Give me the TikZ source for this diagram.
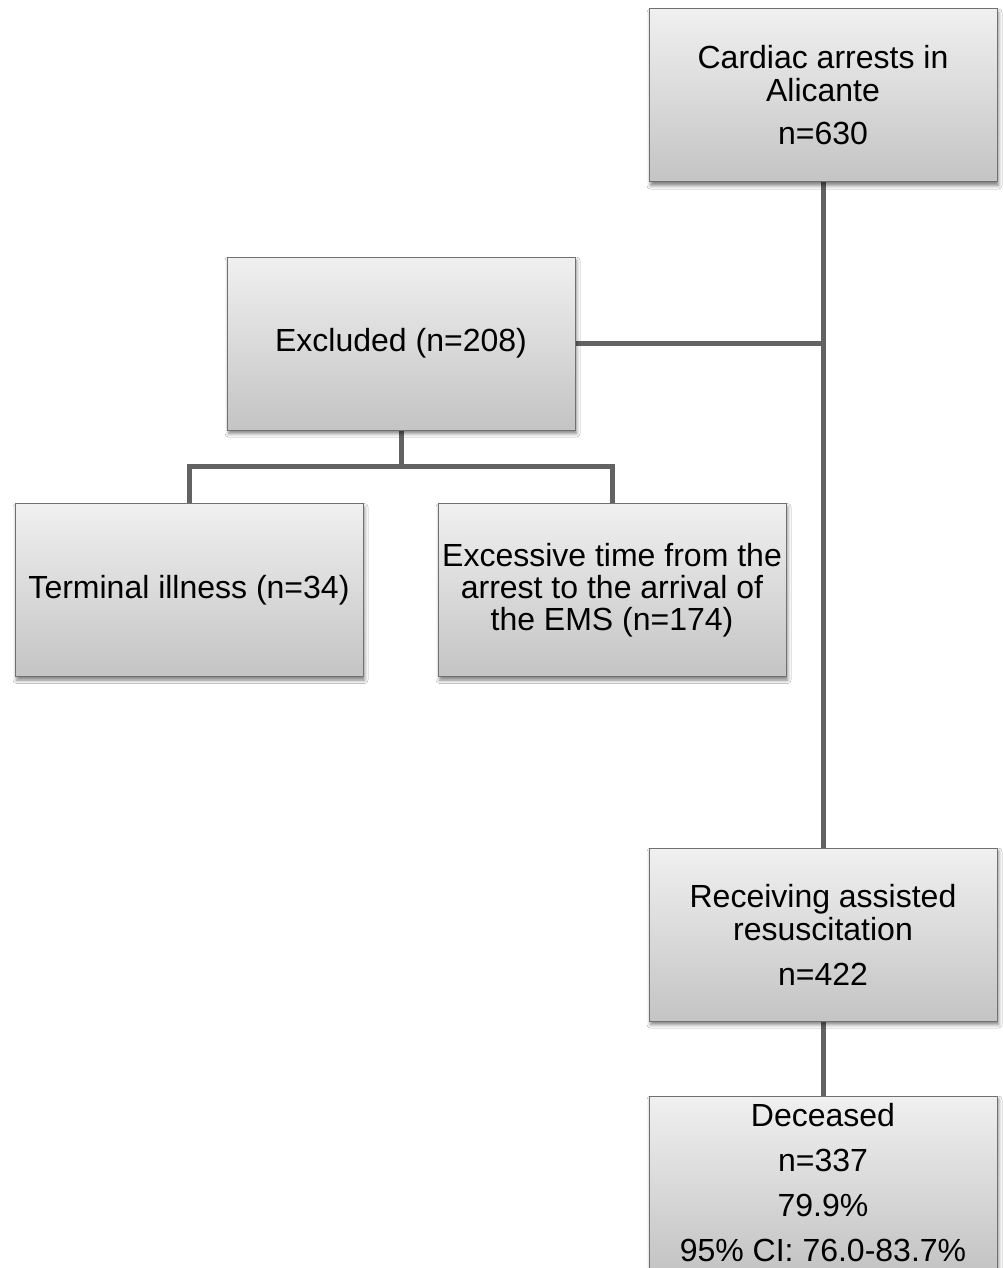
\documentclass[tikz,border=0pt]{standalone}
\usepackage{fontspec}
\setmainfont{Liberation Sans}
\usetikzlibrary{shadows.blur,backgrounds}
\definecolor{linec}{HTML}{626262}
\definecolor{boxtop}{HTML}{F0F0F0}
\definecolor{boxbot}{HTML}{C4C4C4}
\definecolor{boxdraw}{HTML}{707070}
\begin{document}
\begin{tikzpicture}[x=1pt,y=-1pt,
  box/.style={draw=boxdraw, line width=1pt, top color=boxtop, bottom color=boxbot,
    minimum width=348pt, minimum height=173pt, inner sep=0pt, align=center,
    font=\fontsize{32}{33}\selectfont,
    blur shadow={shadow xshift=1.5pt, shadow yshift=-3.5pt, shadow blur radius=3.5pt, shadow opacity=50}},
  conn/.style={draw=linec, line width=5pt}]
\useasboundingbox (0,0) rectangle (1003,1268);
\node[box] (top) at (823,95.5) {Cardiac arrests in\\Alicante\\[10pt]n=630};
\node[box] (excl) at (401,343.5) {Excluded (n=208)};
\node[box] (term) at (189,590) {Terminal illness (n=34)};
\node[box, font=\fontsize{32}{32}\selectfont] (exc) at (612,590) {Excessive time from the\\arrest to the arrival of\\the EMS (n=174)};
\node[box] (rec) at (823,934.5) {Receiving assisted\\resuscitation\\[12pt]n=422};
\node[box] (dec) at (823,1182.5) {Deceased\\[12pt]n=337\\[12pt]79.9\%\\[12pt]95\% CI: 76.0-83.7\%};
\begin{scope}[on background layer]
\fill[white] (0,0) rectangle (1003,1268);
\draw[conn] (top.south) -- (rec.north);
\draw[conn] (excl.east) -- (excl.east -| top.south);
\draw[conn] (excl.south) -- ++(0,36) coordinate (j2);
\draw[conn] (term.north) |- (j2) -| (exc.north);
\draw[conn] (rec.south) -- (dec.north);
\end{scope}
\end{tikzpicture}
\end{document}
